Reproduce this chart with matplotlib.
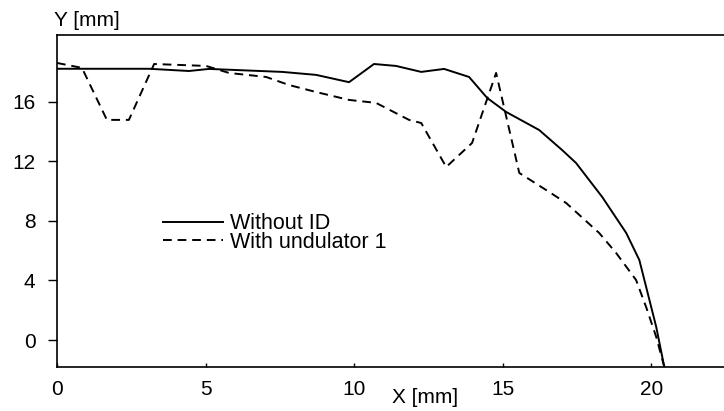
import matplotlib.pyplot as plt

plt.rcParams['font.family'] = ['Liberation Sans', 'DejaVu Sans']

# Without ID (solid)
x_without = [0.0, 3.1, 4.44, 5.12, 7.58, 8.72, 9.83, 10.67, 11.41, 12.26, 13.03,
             13.87, 14.48, 15.12, 16.23, 17.0, 17.47, 18.35, 19.16, 19.6, 19.83,
             20.17, 20.44]
y_without = [18.2, 18.2, 18.05, 18.19, 17.99, 17.79, 17.3, 18.52, 18.39, 17.99, 18.19,
             17.65, 16.24, 15.3, 14.09, 12.75, 11.88, 9.6, 7.18, 5.37, 3.56,
             0.87, -1.8]

# With undulator 1 (dashed)
x_und = [0.0, 0.84, 1.68, 2.42, 3.27, 5.02, 5.79, 7.04, 7.81, 8.72, 9.83, 10.74,
         11.85, 12.26, 13.1, 13.97, 14.78, 15.56, 16.57, 17.14, 18.25, 18.82,
         19.49, 19.83, 20.17, 20.44]
y_und = [18.59, 18.26, 14.77, 14.77, 18.52, 18.39, 17.92, 17.65, 17.11, 16.64, 16.11,
         15.91, 14.77, 14.56, 11.61, 13.22, 17.92, 11.21, 9.93, 9.19, 7.18, 5.84,
         4.03, 2.21, 0.2, -1.8]

x_ticks = [0, 5, 10, 15, 20]
y_ticks = [0, 4, 8, 12, 16]

fig = plt.figure(figsize=(7.24, 4.11), dpi=100)
ax = fig.add_axes([0.0787, 0.107, 0.9213, 0.808])

ax.plot(x_without, y_without, color='black', lw=1.4, label='Without ID')
ax.plot(x_und, y_und, color='black', lw=1.4, dashes=(4.5, 3), label='With undulator 1')

ax.set_xlim(0, 22.45)
ax.set_ylim(-1.81, 20.47)
ax.set_xticks(x_ticks)
ax.set_yticks(y_ticks)

for s in ['left', 'bottom', 'top']:
    ax.spines[s].set_linewidth(1.2)
ax.spines['right'].set_visible(False)

ax.tick_params(axis='y', direction='out', length=6.5, width=1, pad=9, labelsize=15)
ax.tick_params(axis='x', direction='in', length=3, width=1, pad=9, labelsize=15)

fig.text(0.074, 0.951, 'Y [mm]', fontsize=15, ha='left', va='center')
fig.text(0.587, 0.032, 'X [mm]', fontsize=15, ha='center', va='center')

ax.legend(loc='center left', bbox_to_anchor=(0.225, 0.433), bbox_transform=fig.transFigure,
          frameon=False, fontsize=15.5, handlelength=2.8, handletextpad=0.3,
          labelspacing=-0.1, borderpad=0, borderaxespad=0)

plt.savefig('out.png', dpi=100)
